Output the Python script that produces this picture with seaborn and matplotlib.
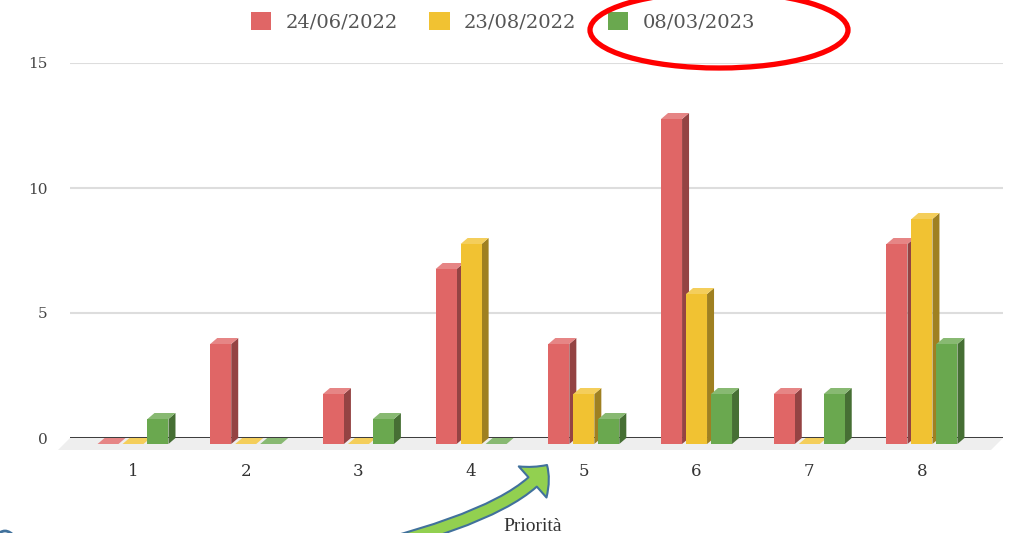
import numpy as np
import pandas as pd
import matplotlib
matplotlib.use("Agg")
import matplotlib.pyplot as plt
import seaborn as sns
from matplotlib.patches import Polygon, Ellipse, FancyArrowPatch, Patch
from matplotlib.path import Path
from matplotlib.transforms import IdentityTransform, ScaledTranslation
from matplotlib.colors import to_rgb

# ---------------- data ----------------
categories = ["1", "2", "3", "4", "5", "6", "7", "8"]
series = ["24/06/2022", "23/08/2022", "08/03/2023"]
v_24_06_2022 = [0, 4, 2, 7, 4, 13, 2, 8]
v_23_08_2022 = [0, 0, 0, 8, 2, 6, 0, 9]
v_08_03_2023 = [1, 0, 1, 0, 1, 2, 2, 4]
colors = ["#E06666", "#F1C232", "#6AA84F"]
yticks = [0, 5, 10, 15]
xlabel = "Priorità"

# ---------------- figure ----------------
W, H, DPI = 1017, 533, 100
sns.set_theme(style="white")
plt.rcParams["font.family"] = ["DejaVu Serif", "DejaVu Sans"]

fig = plt.figure(figsize=(W / DPI, H / DPI), dpi=DPI)
L, R, T, B = 70, 1003, 63, 438
ax = fig.add_axes([L / W, (H - B) / H, (R - L) / W, (B - T) / H])

df = pd.DataFrame({
    "cat": categories * 3,
    "val": v_24_06_2022 + v_23_08_2022 + v_08_03_2023,
    "serie": np.repeat(series, len(categories)),
})
sns.barplot(data=df, x="cat", y="val", hue="serie", hue_order=series,
            palette=colors, width=0.665, gap=0.16, saturation=1,
            errorbar=None, legend=False, ax=ax, linewidth=0, edgecolor="none")

ax.set_xlim(-0.559, 7.719)
ax.set_ylim(0, 15)
ax.set_yticks(yticks)
for s in ax.spines.values():
    s.set_visible(False)
ax.grid(axis="y", color="#DDDDDD", lw=1.5)
ax.grid(axis="x", visible=False)
ax.set_axisbelow(True)
ax.tick_params(axis="y", length=0, pad=16, labelsize=11, labelcolor="#444444")
ax.tick_params(axis="x", length=0, pad=18, labelsize=12, labelcolor="#333333")
ax.set_xlabel(xlabel, fontsize=14, color="#333333", family="Liberation Serif", va="baseline")
ax.xaxis.set_label_coords((533 - L) / (R - L), (B - 531) / (B - T))
ax.xaxis.label.set_zorder(20)
ax.set_ylabel("")

# baseline + floor
ax.axhline(0, color="#3A3A3A", lw=1.4, zorder=1.2)
def P(x, y):
    return (x, H - y)
floor = Polygon([P(L, B), P(R, B), P(R - 12, B + 12), P(L - 12, B + 12)],
                closed=True, transform=IdentityTransform(), fc="#EEEEEE",
                ec="none", zorder=1.0, clip_on=False)
ax.add_patch(floor)

# 3D look for the bars
DX, DY, DOWN = 7, 6, 6
bars = sorted([p for p in ax.patches if p is not floor], key=lambda p: p.get_x())
shift = ax.transData + ScaledTranslation(0, -DOWN / DPI, fig.dpi_scale_trans)

def lighten(c, f):
    r = np.array(to_rgb(c))
    return tuple(r + (1 - r) * f)

def darken(c, f):
    return tuple(np.array(to_rgb(c)) * f)

for i, p in enumerate(bars):
    z = 3 + i * 0.01
    x0, w, h = p.get_x(), p.get_width(), p.get_height()
    fc = p.get_facecolor()[:3]
    X0, Y0 = ax.transData.transform((x0, 0))
    X1, Yh = ax.transData.transform((x0 + w, h))
    Y0 -= DOWN
    Yh -= DOWN
    p.set_transform(shift)
    p.set_clip_on(False)
    p.set_zorder(z)
    top = Polygon([(X0, Yh), (X1, Yh), (X1 + DX, Yh + DY), (X0 + DX, Yh + DY)],
                  closed=True, transform=IdentityTransform(), fc=lighten(fc, 0.2),
                  ec="none", zorder=z - 0.001, clip_on=False)
    side = Polygon([(X1, Y0), (X1 + DX, Y0 + DY), (X1 + DX, Yh + DY), (X1, Yh)],
                   closed=True, transform=IdentityTransform(), fc=darken(fc, 0.66),
                   ec="none", zorder=z - 0.002, clip_on=False)
    ax.add_patch(top)
    ax.add_patch(side)

# legend
handles = [Patch(facecolor=c, edgecolor="none", label=s) for c, s in zip(colors, series)]
fig.legend(handles=handles, loc="center", bbox_to_anchor=(503 / W, 1 - 22 / H),
           ncol=3, frameon=False, fontsize=14, handlelength=1.05, handleheight=1.05,
           handletextpad=0.75, columnspacing=1.6, labelcolor="#555555")

# annotations: red ellipse, green curved arrow, blue arc piece
fig.add_artist(Ellipse(P(719, 30), 258, 76, transform=IdentityTransform(),
                       fill=False, ec="#FF0000", lw=3.8, zorder=10))
arrow_path = Path([P(307, 563), P(515, 520), P(547, 465)],
                  [Path.MOVETO, Path.CURVE3, Path.CURVE3])
arrow = FancyArrowPatch(path=arrow_path,
                        arrowstyle="simple,head_length=16,head_width=30,tail_width=9",
                        mutation_scale=1, transform=IdentityTransform(),
                        fc="#92D050", ec="#41719C", lw=1.5, zorder=11)
fig.add_artist(arrow)
fig.add_artist(Ellipse(P(5, 606), 50, 150, transform=IdentityTransform(),
                       fill=False, ec="#41719C", lw=2, zorder=10))

fig.savefig("out.png", dpi=DPI)
